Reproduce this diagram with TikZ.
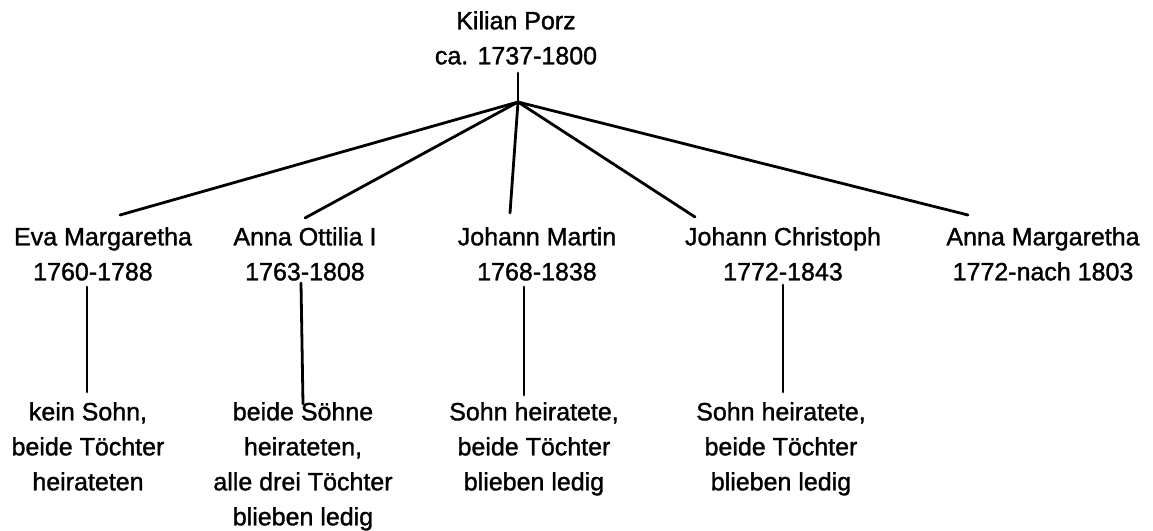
\documentclass[tikz,border=0pt]{standalone}
\usepackage{fontspec}
\setmainfont{Liberation Sans}
\newfontfamily\labelfont[FakeBold=1.3]{Liberation Sans}
\begin{document}
\begin{tikzpicture}[x=1pt,y=-1pt,
  person/.style={anchor=north,inner sep=0pt,align=center,
    font=\labelfont\fontsize{25}{35}\selectfont},
  link/.style={line width=2.8pt,line cap=round},
]
\useasboundingbox (0,0) rectangle (1153,530);

% ancestor
\node[person] (kp) at (516,11) {Kilian Porz\\ca. 1737-1800};
\coordinate (stem) at (518,73);
\coordinate (apex) at (518,102);

% children
\node[person] (eva) at (103,227) {Eva Margaretha\\1760-1788\hspace*{20pt}};
\node[person] (ott) at (305,227) {Anna Ottilia I\\1763-1808};
\node[person] (jm)  at (537,227) {Johann Martin\\1768-1838};
\node[person] (jc)  at (783,227) {Johann Christoph\\1772-1843};
\node[person] (am)  at (1043,227) {Anna Margaretha\\1772-nach 1803};

% grandchildren
\node[person] (evaK) at (88,402) {kein Sohn,\\beide Töchter\\heirateten};
\node[person] (ottK) at (303,402) {beide Söhne\\heirateten,\\alle drei Töchter\\blieben ledig};
\node[person] (jmK)  at (534,402) {Sohn heiratete,\\beide Töchter\\blieben ledig};
\node[person] (jcK)  at (781,402) {Sohn heiratete,\\beide Töchter\\blieben ledig};

% line ends above the children
\coordinate (evaT) at (120,215);
\coordinate (ottT) at (305,218);
\coordinate (jmT)  at (510,213);
\coordinate (jcT)  at (695,217);
\coordinate (amT)  at (968,215);

% line ends of the descent lines
\coordinate (evaD) at (87,287);  \coordinate (evaE) at (87,392);
\coordinate (ottD) at (301,283); \coordinate (ottE) at (303,404);
\coordinate (jmD)  at (524,287); \coordinate (jmE)  at (524,395);
\coordinate (jcD)  at (783,285); \coordinate (jcE)  at (783,392);

\draw[link] (stem) -- (apex);
\foreach \c in {evaT,ottT,jmT,jcT,amT}
  \draw[link] (apex) -- (\c);

\draw[link] (evaD) -- (evaE);
\draw[link] (ottD) -- (ottE);
\draw[link] (jmD) -- (jmE);
\draw[link] (jcD) -- (jcE);
\end{tikzpicture}
\end{document}
